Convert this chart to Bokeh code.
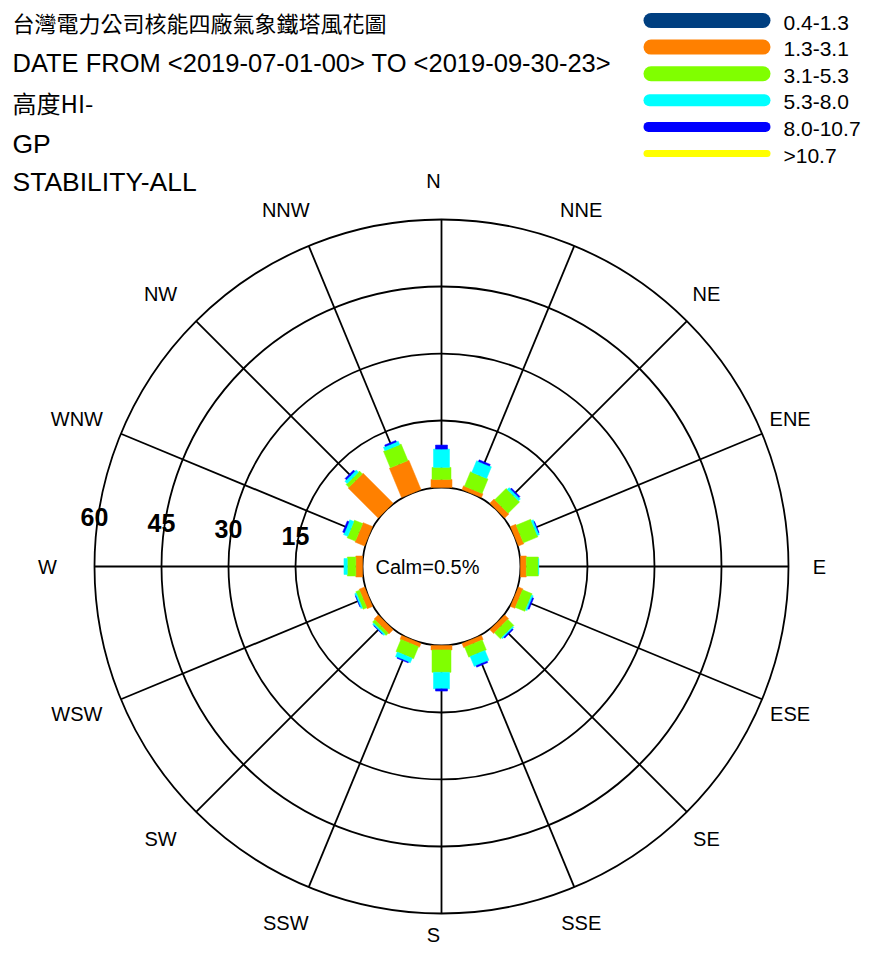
import math
from bokeh.plotting import figure
from bokeh.models import Range1d
from bokeh.core.properties import value
from bokeh.embed import file_html
from bokeh.resources import INLINE

# ---------------- data ----------------
directions = ["N", "NNE", "NE", "ENE", "E", "ESE", "SE", "SSE",
              "S", "SSW", "SW", "WSW", "W", "WNW", "NW", "NNW"]
speed_classes = ["0.4-1.3", "1.3-3.1", "3.1-5.3", "5.3-8.0", "8.0-10.7", ">10.7"]
class_colors = ["#003f80", "#ff8000", "#80ff00", "#00ffff", "#0000ff", "#ffff00"]

pct_04_13 = [0, 0, 0, 0, 0, 0, 0, 0, 0, 0, 0, 0, 0, 0, 0, 0]
pct_13_31 = [1.8, 0.9, 1.3, 1.3, 1.3, 1.1, 1.2, 1.0, 1.0, 0.9, 1.3, 1.3, 1.5, 2.3, 9.5, 7.1]
pct_31_53 = [2.7, 3.5, 3.6, 3.5, 2.7, 2.3, 1.9, 2.4, 5.0, 2.9, 0.7, 0.9, 1.9, 2.0, 0.9, 4.0]
pct_53_80 = [4.1, 2.8, 0.6, 0.5, 0.1, 0.4, 0.3, 2.4, 3.7, 1.1, 0.35, 0.4, 0.75, 1.0, 0.7, 0.85]
pct_80_107 = [0.9, 0.4, 0.3, 0.1, 0.0, 0.3, 0.25, 0.35, 0.5, 0.2, 0.1, 0.05, 0.0, 0.4, 0.4, 0.35]
pct_gt107 = [0, 0, 0, 0, 0, 0, 0, 0, 0, 0, 0, 0, 0, 0, 0, 0]
ring_values = [15, 30, 45, 60]
calm_pct = 0.5

header_lines = ["台灣電力公司核能四廠氣象鐵塔風花圖",
                "DATE FROM <2019-07-01-00> TO <2019-09-30-23>",
                "高度HI-", "GP", "STABILITY-ALL"]

series = [pct_04_13, pct_13_31, pct_31_53, pct_53_80, pct_80_107, pct_gt107]

# ---------------- geometry / style ----------------
CX, CY = 441.0, 566.0          # rose centre
R_CALM = 79.0                  # radius of calm circle
K = 67.0 / 15.0                # pixels per percent
seg_widths = [21, 21, 19, 16, 12, 10]
W, H = 861, 944

p = figure(width=W, height=H, x_range=Range1d(0, W), y_range=Range1d(H, 0),
           output_backend="svg", toolbar_location=None,
           x_axis_type=None, y_axis_type=None, min_border=0)
p.outline_line_color = None
p.background_fill_color = "white"
p.border_fill_color = "white"

def rad(v):
    return R_CALM + v * K

# rings
ring_r = [R_CALM] + [rad(v) for v in ring_values]
p.circle(x=[CX] * len(ring_r), y=[CY] * len(ring_r), radius=ring_r,
         radius_dimension="x", fill_color=None, line_color="black", line_width=1.8)

# spokes
r_out = rad(ring_values[-1])
xs, ys = [], []
for i, d in enumerate(directions):
    th = math.radians(22.5 * i)
    s, c = math.sin(th), math.cos(th)
    xs.append([CX + R_CALM * s, CX + r_out * s])
    ys.append([CY - R_CALM * c, CY - r_out * c])
p.multi_line(xs=xs, ys=ys, line_color="black", line_width=1.8)

# stacked bars
for ci, (vals, col) in enumerate(zip(series, class_colors)):
    pxs, pys = [], []
    for i in range(len(directions)):
        cum = sum(series[j][i] for j in range(ci))
        v = vals[i]
        if v <= 0:
            continue
        th = math.radians(22.5 * i)
        s, c = math.sin(th), math.cos(th)
        ra, rb = rad(cum), rad(cum + v)
        hw = seg_widths[ci] / 2.0
        ax, ay = CX + ra * s, CY - ra * c
        bx, by = CX + rb * s, CY - rb * c
        px, py = c * hw, s * hw
        pxs.append([ax - px, ax + px, bx + px, bx - px])
        pys.append([ay - py, ay + py, by + py, by - py])
    if pxs:
        p.patches(xs=pxs, ys=pys, fill_color=col, line_color=col, line_width=0.5)

# direction labels
LBL_R = 386.0
lx, ly, lt = [], [], []
for i, d in enumerate(directions):
    th = math.radians(22.5 * i)
    x = CX - 8 + LBL_R * math.sin(th)
    y = CY - LBL_R * math.cos(th)
    y = min(y, H - 10)
    lx.append(x); ly.append(y); lt.append(d)
p.text(x=lx, y=ly, text=lt, text_align="center", text_baseline="middle",
       text_font=value("Liberation Sans"), text_font_size="20px", text_color="black")

# ring value labels
rvx = [CX - rad(v) for v in ring_values]
rvy = [CY - 17 - rad(v) * 0.095 for v in ring_values]
p.text(x=rvx, y=rvy, text=[str(v) for v in ring_values], text_align="center",
       text_baseline="middle", text_font=value("Liberation Sans"), text_font_style="bold",
       text_font_size="25px", text_color="black")

# calm text
p.text(x=[CX - 14], y=[CY], text=["Calm=%.1f%%" % calm_pct], text_align="center",
       text_baseline="middle", text_font=value("Liberation Sans"),
       text_font_size="20px", text_color="black")

# header
hy = [21, 62, 102, 143, 181]
p.text(x=[12], y=[hy[0]], text=[header_lines[0]], text_baseline="middle",
       text_font=value("Noto Sans CJK TC"), text_font_size="22px", text_color="black")
p.text(x=[12], y=[hy[2]], text=[header_lines[2]], text_baseline="middle",
       text_font=value("Noto Sans CJK TC"), text_font_size="24px", text_color="black")
p.text(x=[12], y=[hy[1]], text=[header_lines[1]], text_baseline="middle",
       text_font=value("Liberation Sans"), text_font_size="25.5px", text_color="black")
p.text(x=[12, 12], y=[hy[3], hy[4]], text=[header_lines[3], header_lines[4]],
       text_baseline="middle", text_font=value("Liberation Sans"),
       text_font_size="26.5px", text_color="black")

# legend
leg_thick = [15, 15, 15, 12, 10, 7]
leg_y = [20 + 26.6 * i for i in range(len(speed_classes))]
for i, (lab, col) in enumerate(zip(speed_classes, class_colors)):
    t = leg_thick[i]
    p.segment(x0=[643 + t / 2.0], y0=[leg_y[i]], x1=[770 - t / 2.0], y1=[leg_y[i]],
              line_color=col, line_width=t, line_cap="round")
p.text(x=[783] * len(speed_classes), y=[y + 2 for y in leg_y], text=speed_classes,
       text_baseline="middle", text_font=value("Liberation Sans"),
       text_font_size="21px", text_color="black")

open("out.html", "w").write(file_html(p, INLINE))
